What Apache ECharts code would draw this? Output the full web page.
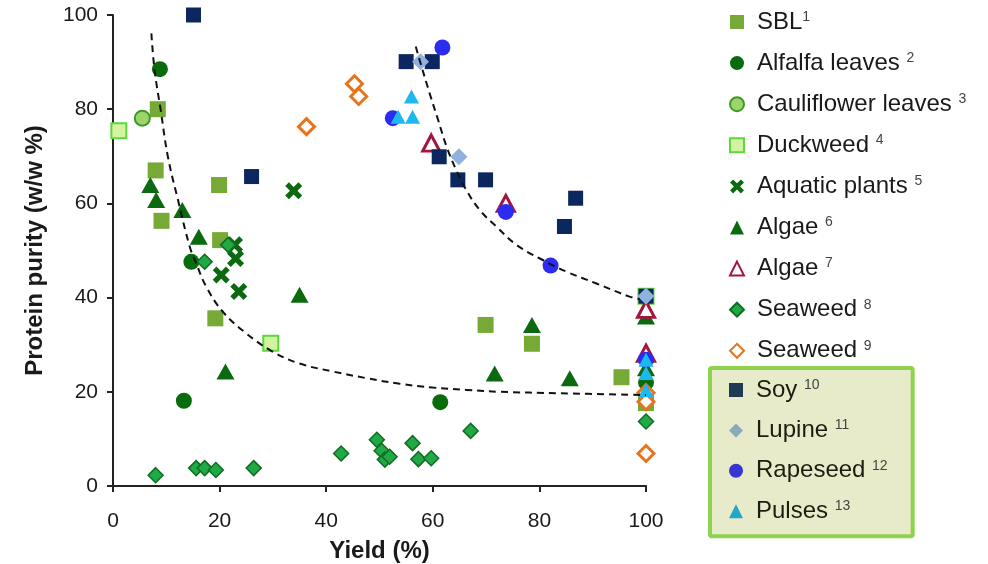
<!DOCTYPE html>
<html>
<head>
<meta charset="utf-8">
<script src="https://cdn.jsdelivr.net/npm/echarts@6/dist/echarts.min.js"></script>
<style>
  html, body { margin: 0; padding: 0; background: #fff; }
  #chart { width: 988px; height: 564px; }
</style>
</head>
<body>
<div id="chart"></div>
<script>
// Protein purity (w/w %) against yield (%) per raw material, points as [yield, purity]
const SBL = [[8.4, 80], [8.0, 67], [9.1, 56.3], [19.9, 63.9], [20.1, 52.2], [19.2, 35.6], [69.9, 34.2], [78.6, 30.2], [95.4, 23.1], [100, 17.6]];
const ALFALFA = [[8.8, 88.5], [14.7, 47.6], [13.3, 18.1], [61.4, 17.8], [100, 22]];
const CAULIFLOWER = [[5.5, 78.1]];
const DUCKWEED = [[1.1, 75.4], [29.6, 30.3], [100, 40.3]];
const AQUATIC = [[33.9, 62.7], [22.8, 51.2], [23.0, 48.3], [20.3, 44.8], [23.6, 41.3]];
const ALGAE_6 = [[7.0, 63.9], [8.1, 60.7], [13.0, 58.6], [16.1, 52.9], [35.0, 40.6], [21.1, 24.3], [71.6, 23.9], [78.6, 34.2], [85.7, 22.9], [100, 36], [100, 25]];
const ALGAE_7 = [[59.7, 72.8], [73.7, 60.0], [100, 37.5], [100, 28.2]];
const SEAWEED_8 = [[8.0, 2.3], [15.6, 3.8], [17.2, 3.8], [19.3, 3.4], [26.4, 3.8], [42.8, 6.9], [49.5, 9.8], [50.4, 7.5], [51.0, 5.6], [51.9, 6.2], [56.2, 9.1], [57.3, 5.7], [59.7, 5.9], [67.1, 11.7], [21.6, 51.2], [17.2, 47.6], [100, 13.7]];
const SEAWEED_9 = [[45.3, 85.4], [46.1, 82.7], [36.3, 76.3], [100, 19.8], [100, 17.9], [100, 6.9]];
const SOY = [[15.1, 100], [26.0, 65.7], [55.0, 90.1], [59.9, 90.1], [61.2, 69.9], [64.7, 65.0], [69.9, 65.0], [86.8, 61.1], [84.7, 55.1], [100, 40.3]];
const LUPINE = [[57.7, 90.1], [64.9, 69.9], [100, 40.3]];
const RAPESEED = [[61.8, 93.1], [52.5, 78.1], [73.7, 58.2], [82.1, 46.8], [100, 26.8]];
const PULSES = [[56.0, 82.7], [53.5, 78.4], [56.2, 78.4], [100, 26.8], [100, 24.0], [100, 20.4]];

// Dashed trend curves
const TREND_LEAVES = [[7.2, 96.1], [7.8, 88.3], [8.95, 79.8], [10.3, 69.9], [12.2, 60.7], [14.4, 50.8], [15.6, 47.3], [17.5, 42.3], [20.6, 37.0], [25.0, 32.4], [30.0, 28.5], [35.0, 26.0], [41.3, 24.3], [47.5, 22.9], [53.8, 21.7], [60.0, 20.9], [66.3, 20.4], [72.6, 20.0], [83.8, 19.7], [100, 19.3]];
const TREND_SEEDS = [[56.8, 93.3], [57.9, 89.0], [59.4, 83.4], [61.0, 77.7], [62.6, 72.0], [64.4, 67.1], [66.3, 62.8], [68.8, 58.6], [71.9, 55.1], [75.7, 51.2], [80.1, 48.3], [85.1, 45.5], [90.7, 43.0], [96.9, 40.2], [98.8, 39.7]];

// Legend labels and their reference numbers
const NAMES = ['SBL', 'Alfalfa leaves', 'Cauliflower leaves', 'Duckweed', 'Aquatic plants', 'Algae', 'Algae', 'Seaweed', 'Seaweed', 'Soy', 'Lupine', 'Rapeseed', 'Pulses'];
const REFS = ['1', '2', '3', '4', '5', '6', '7', '8', '9', '10', '11', '12', '13'];
const X_TICKS = [0, 20, 40, 60, 80, 100];
const Y_TICKS = [0, 20, 40, 60, 80, 100];

// Bold cross marker
const CROSS = 'path://M0,2.2 L2.2,0 L5,2.8 L7.8,0 L10,2.2 L7.2,5 L10,7.8 L7.8,10 L5,7.2 L2.2,10 L0,7.8 L2.8,5 Z';

const styles = [
  { symbol: 'rect', size: 16, item: { color: '#76a935' } },
  { symbol: 'circle', size: 16, item: { color: '#086b0c' } },
  { symbol: 'circle', size: 15, item: { color: '#9fd46a', borderColor: '#3c9a2c', borderWidth: 2 } },
  { symbol: 'rect', size: 15, item: { color: '#d3f3a2', borderColor: '#5cd83c', borderWidth: 2 } },
  { symbol: CROSS, size: 17, item: { color: '#0b6a10' } },
  { symbol: 'triangle', size: [18, 16], item: { color: '#0b6a10' } },
  { symbol: 'triangle', size: [17, 16], item: { color: '#ffffff', borderColor: '#a3173f', borderWidth: 3 } },
  { symbol: 'diamond', size: 15, item: { color: '#21a947', borderColor: '#0f6e1f', borderWidth: 1.5 } },
  { symbol: 'diamond', size: 16, item: { color: '#ffffff', borderColor: '#e8731d', borderWidth: 3 } },
  { symbol: 'rect', size: 15, item: { color: '#0c2660' } },
  { symbol: 'diamond', size: 17, item: { color: '#8fb1dc' } },
  { symbol: 'circle', size: 16, item: { color: '#2b2cf0' } },
  { symbol: 'triangle', size: [15, 14], item: { color: '#1cb8ee' } }
];
// Icon tints inside the highlighted legend box
const BOX_ICON_COLORS = ['#1f3a52', '#8aa9ba', '#3836d2', '#1fa8c8'];
const POINTS = [SBL, ALFALFA, CAULIFLOWER, DUCKWEED, AQUATIC, ALGAE_6, ALGAE_7, SEAWEED_8, SEAWEED_9, SOY, LUPINE, RAPESEED, PULSES];

const seriesNames = NAMES.map((n, i) => n + ' ' + REFS[i]);

const series = POINTS.map((pts, i) => ({
  name: seriesNames[i],
  type: 'scatter',
  data: pts,
  symbol: styles[i].symbol,
  symbolSize: styles[i].size,
  itemStyle: Object.assign({ opacity: 1 }, styles[i].item),
  z: 2 + i * 0.01
}));

[TREND_LEAVES, TREND_SEEDS].forEach((pts) => {
  series.push({
    type: 'line',
    data: pts,
    smooth: 0.4,
    symbol: 'none',
    silent: true,
    lineStyle: { color: '#111', width: 2, type: [7, 5] },
    z: 5
  });
});

const FONT = 'Liberation Sans, Arial, sans-serif';
const legendText = (color) => ({
  fontFamily: FONT,
  fontSize: 24,
  color: color,
  rich: {
    n: { fontSize: 24, color: color, fontFamily: FONT, lineHeight: 24, padding: [0, 0, 0, 8] },
    s: { fontSize: 14, color: '#444', fontFamily: FONT, verticalAlign: 'top', lineHeight: 24, padding: [0, 0, 8, 0] }
  }
});
const legendFormatter = (name) => {
  const i = seriesNames.indexOf(name);
  const gap = i === 0 ? '' : ' ';
  return '{n|' + NAMES[i] + gap + '}{s|' + REFS[i] + '}';
};
const legendData = (from, to, tints) => seriesNames.slice(from, to).map((n, k) => {
  const entry = { name: n, icon: styles[from + k].symbol };
  if (tints) entry.itemStyle = { color: tints[k] };
  return entry;
});

const axisCommon = {
  min: 0,
  max: 100,
  interval: 20,
  axisLine: { show: true, onZero: false, lineStyle: { color: '#222', width: 2 } },
  axisTick: { show: true, inside: false, length: 6, lineStyle: { color: '#222', width: 2 } },
  splitLine: { show: false },
  nameTextStyle: { fontFamily: FONT, fontSize: 24, fontWeight: 'bold', color: '#1a1a1a' }
};

const chart = echarts.init(document.getElementById('chart'), null, { renderer: 'canvas' });
chart.setOption({
  animation: false,
  backgroundColor: '#ffffff',
  grid: { left: 113, right: 342, top: 15, bottom: 78, containLabel: false, outerBoundsMode: 'none' },
  xAxis: Object.assign({}, axisCommon, {
    type: 'value',
    name: 'Yield (%)',
    nameLocation: 'middle',
    nameGap: 53,
    axisLabel: {
      margin: 25,
      fontFamily: FONT,
      fontSize: 21,
      color: '#1a1a1a',
      formatter: (v) => (X_TICKS.indexOf(v) >= 0 ? String(v) : '')
    }
  }),
  yAxis: Object.assign({}, axisCommon, {
    type: 'value',
    name: 'Protein purity (w/w %)',
    nameLocation: 'middle',
    nameGap: 66,
    axisLabel: {
      margin: 15,
      fontFamily: FONT,
      fontSize: 21,
      color: '#1a1a1a',
      formatter: (v) => (Y_TICKS.indexOf(v) >= 0 ? String(v) : '')
    }
  }),
  legend: [
    {
      data: legendData(0, 9),
      orient: 'vertical',
      left: 729,
      top: 10,
      padding: 0,
      itemWidth: 14,
      itemHeight: 14,
      itemGap: 17.1,
      textStyle: legendText('#1a1a1a'),
      formatter: legendFormatter,
      selectedMode: false
    },
    {
      data: legendData(9, 13, BOX_ICON_COLORS),
      orient: 'vertical',
      left: 710,
      top: 368,
      padding: [10, 25, 13, 19],
      itemWidth: 14,
      itemHeight: 14,
      itemGap: 16.4,
      backgroundColor: '#e8ebc9',
      borderColor: '#8ed350',
      borderWidth: 4,
      borderRadius: 2,
      textStyle: legendText('#1c1c10'),
      formatter: legendFormatter,
      selectedMode: false
    }
  ],
  series: series
});
</script>
</body>
</html>
